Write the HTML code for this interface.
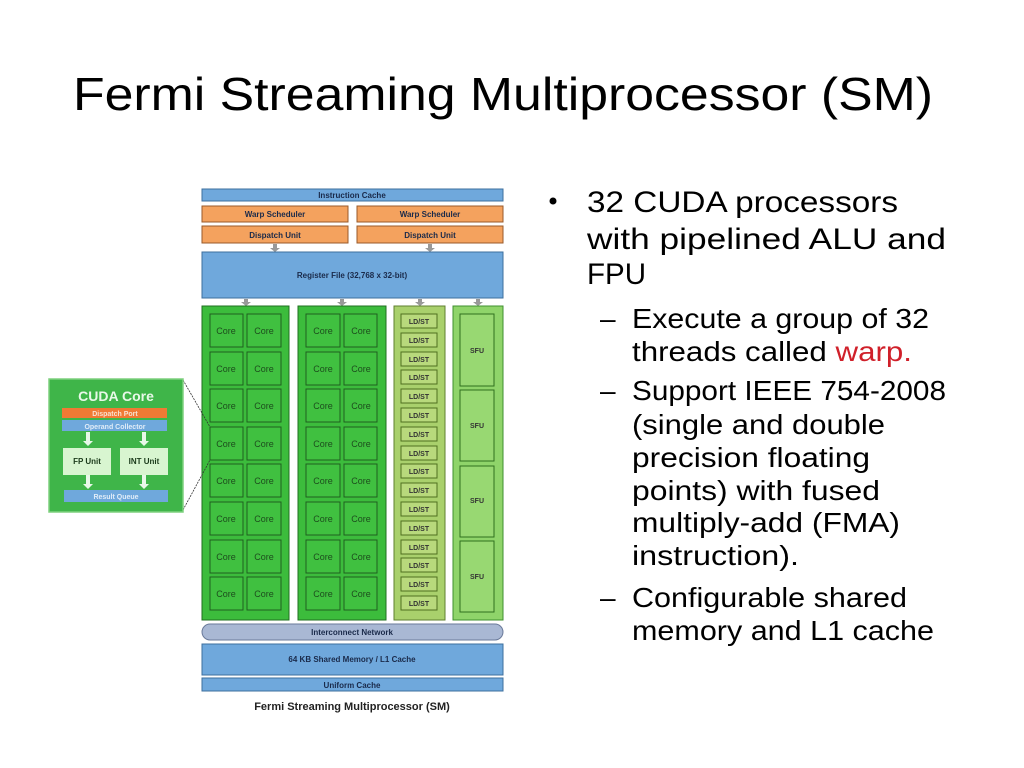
<!DOCTYPE html>
<html><head><meta charset="utf-8"><style>
html,body{margin:0;padding:0;background:#fff;}
svg{display:block}
.d{font-family:"Liberation Sans",sans-serif;font-weight:bold;font-size:8px;text-anchor:middle;fill:#1a2a4a}
.c{font-family:"Liberation Sans",sans-serif;font-size:9px;text-anchor:middle;fill:#1d4d1d}
.l{font-family:"Liberation Sans",sans-serif;font-weight:bold;font-size:7px;text-anchor:middle;fill:#333}
.t{font-family:"Liberation Sans",sans-serif;fill:#000}
</style></head><body>
<svg width="1024" height="768" viewBox="0 0 1024 768" xmlns="http://www.w3.org/2000/svg">
<text class="t" x="73" y="110" font-size="46" textLength="860" lengthAdjust="spacingAndGlyphs">Fermi Streaming Multiprocessor (SM)</text>

<!-- top blocks -->
<rect x="202" y="189" width="301" height="12" fill="#6fa8dc" stroke="#3d6f9e"/>
<text class="d" x="352" y="198">Instruction Cache</text>
<rect x="202" y="206" width="146" height="16" fill="#f4a25e" stroke="#9a5a2a"/>
<text class="d" x="275" y="217">Warp Scheduler</text>
<rect x="357" y="206" width="146" height="16" fill="#f4a25e" stroke="#9a5a2a"/>
<text class="d" x="430" y="217">Warp Scheduler</text>
<rect x="202" y="226" width="146" height="17" fill="#f4a25e" stroke="#9a5a2a"/>
<text class="d" x="275" y="238">Dispatch Unit</text>
<rect x="357" y="226" width="146" height="17" fill="#f4a25e" stroke="#9a5a2a"/>
<text class="d" x="430" y="238">Dispatch Unit</text>
<g fill="#999">
<polygon points="273,244 277,244 277,248 280,248 275,252 270,248 273,248"/>
<polygon points="428,244 432,244 432,248 435,248 430,252 425,248 428,248"/>
<polygon points="244,299 248,299 248,302 251,302 246,306 241,302 244,302"/>
<polygon points="340,299 344,299 344,302 347,302 342,306 337,302 340,302"/>
<polygon points="418,299 422,299 422,302 425,302 420,306 415,302 418,302"/>
<polygon points="476,299 480,299 480,302 483,302 478,306 473,302 476,302"/>
</g>
<rect x="202" y="252" width="301" height="46" fill="#6fa8dc" stroke="#3d6f9e"/>
<text class="d" x="352" y="278">Register File (32,768 x 32-bit)</text>

<!-- columns -->
<rect x="202" y="306" width="87" height="314" fill="#3cbc3c" stroke="#1f6f1f"/>
<rect x="298" y="306" width="88" height="314" fill="#3cbc3c" stroke="#1f6f1f"/>
<rect x="394" y="306" width="51" height="314" fill="#a9d06c" stroke="#5f7f2f"/>
<rect x="453" y="306" width="50" height="314" fill="#8fd46a" stroke="#3f8f2f"/>

<g fill="#40c040" stroke="#1f5f1f">
<rect x="210" y="314" width="33" height="33"/><rect x="247" y="314" width="34" height="33"/><rect x="306" y="314" width="34" height="33"/><rect x="344" y="314" width="33" height="33"/>
<rect x="210" y="352" width="33" height="33"/><rect x="247" y="352" width="34" height="33"/><rect x="306" y="352" width="34" height="33"/><rect x="344" y="352" width="33" height="33"/>
<rect x="210" y="389" width="33" height="33"/><rect x="247" y="389" width="34" height="33"/><rect x="306" y="389" width="34" height="33"/><rect x="344" y="389" width="33" height="33"/>
<rect x="210" y="427" width="33" height="33"/><rect x="247" y="427" width="34" height="33"/><rect x="306" y="427" width="34" height="33"/><rect x="344" y="427" width="33" height="33"/>
<rect x="210" y="464" width="33" height="33"/><rect x="247" y="464" width="34" height="33"/><rect x="306" y="464" width="34" height="33"/><rect x="344" y="464" width="33" height="33"/>
<rect x="210" y="502" width="33" height="33"/><rect x="247" y="502" width="34" height="33"/><rect x="306" y="502" width="34" height="33"/><rect x="344" y="502" width="33" height="33"/>
<rect x="210" y="540" width="33" height="33"/><rect x="247" y="540" width="34" height="33"/><rect x="306" y="540" width="34" height="33"/><rect x="344" y="540" width="33" height="33"/>
<rect x="210" y="577" width="33" height="33"/><rect x="247" y="577" width="34" height="33"/><rect x="306" y="577" width="34" height="33"/><rect x="344" y="577" width="33" height="33"/>
</g>
<g class="c">
<text x="226" y="334">Core</text><text x="264" y="334">Core</text><text x="323" y="334">Core</text><text x="361" y="334">Core</text>
<text x="226" y="372">Core</text><text x="264" y="372">Core</text><text x="323" y="372">Core</text><text x="361" y="372">Core</text>
<text x="226" y="409">Core</text><text x="264" y="409">Core</text><text x="323" y="409">Core</text><text x="361" y="409">Core</text>
<text x="226" y="447">Core</text><text x="264" y="447">Core</text><text x="323" y="447">Core</text><text x="361" y="447">Core</text>
<text x="226" y="484">Core</text><text x="264" y="484">Core</text><text x="323" y="484">Core</text><text x="361" y="484">Core</text>
<text x="226" y="522">Core</text><text x="264" y="522">Core</text><text x="323" y="522">Core</text><text x="361" y="522">Core</text>
<text x="226" y="560">Core</text><text x="264" y="560">Core</text><text x="323" y="560">Core</text><text x="361" y="560">Core</text>
<text x="226" y="597">Core</text><text x="264" y="597">Core</text><text x="323" y="597">Core</text><text x="361" y="597">Core</text>
</g>

<g fill="#b8d97c" stroke="#4f6f1f">
<rect x="401" y="314" width="36" height="14"/><rect x="401" y="333" width="36" height="14"/><rect x="401" y="352" width="36" height="14"/><rect x="401" y="370" width="36" height="14"/>
<rect x="401" y="389" width="36" height="14"/><rect x="401" y="408" width="36" height="14"/><rect x="401" y="427" width="36" height="14"/><rect x="401" y="446" width="36" height="14"/>
<rect x="401" y="464" width="36" height="14"/><rect x="401" y="483" width="36" height="14"/><rect x="401" y="502" width="36" height="14"/><rect x="401" y="521" width="36" height="14"/>
<rect x="401" y="540" width="36" height="14"/><rect x="401" y="558" width="36" height="14"/><rect x="401" y="577" width="36" height="14"/><rect x="401" y="596" width="36" height="14"/>
</g>
<g class="l">
<text x="419" y="324">LD/ST</text><text x="419" y="343">LD/ST</text><text x="419" y="362">LD/ST</text><text x="419" y="380">LD/ST</text>
<text x="419" y="399">LD/ST</text><text x="419" y="418">LD/ST</text><text x="419" y="437">LD/ST</text><text x="419" y="456">LD/ST</text>
<text x="419" y="474">LD/ST</text><text x="419" y="493">LD/ST</text><text x="419" y="512">LD/ST</text><text x="419" y="531">LD/ST</text>
<text x="419" y="550">LD/ST</text><text x="419" y="568">LD/ST</text><text x="419" y="587">LD/ST</text><text x="419" y="606">LD/ST</text>
</g>

<g fill="#98d872" stroke="#2f6f1f">
<rect x="460" y="314" width="34" height="72"/><rect x="460" y="390" width="34" height="71"/><rect x="460" y="466" width="34" height="71"/><rect x="460" y="541" width="34" height="71"/>
</g>
<g class="l" font-size="8">
<text x="477" y="353">SFU</text><text x="477" y="428">SFU</text><text x="477" y="503">SFU</text><text x="477" y="579">SFU</text>
</g>

<rect x="202" y="624" width="301" height="16" rx="8" fill="#a9b8d4" stroke="#6a7a9a"/>
<text class="d" x="352" y="635">Interconnect Network</text>
<rect x="202" y="644" width="301" height="31" fill="#6fa8dc" stroke="#3d6f9e"/>
<text class="d" x="352" y="662">64 KB Shared Memory / L1 Cache</text>
<rect x="202" y="678" width="301" height="13" fill="#6fa8dc" stroke="#3d6f9e"/>
<text class="d" x="352" y="688">Uniform Cache</text>
<text x="352" y="710" font-family="Liberation Sans,sans-serif" font-weight="bold" font-size="11" text-anchor="middle" fill="#222">Fermi Streaming Multiprocessor (SM)</text>

<!-- CUDA core callout -->
<line x1="183" y1="380" x2="210" y2="427" stroke="#333" stroke-width="0.8" stroke-dasharray="2,1"/>
<line x1="183" y1="510" x2="210" y2="460" stroke="#333" stroke-width="0.8" stroke-dasharray="2,1"/>
<rect x="49" y="379" width="134" height="133" fill="#3fb549" stroke="#7fd07f" stroke-width="1.5"/>
<text x="116" y="401" font-family="Liberation Sans,sans-serif" font-weight="bold" font-size="14" text-anchor="middle" fill="#e8f8e8">CUDA Core</text>
<rect x="62" y="408" width="105" height="10" fill="#f07a34"/>
<text x="115" y="416" font-family="Liberation Sans,sans-serif" font-weight="bold" font-size="7" text-anchor="middle" fill="#f8e0d0">Dispatch Port</text>
<rect x="62" y="420" width="105" height="11" fill="#6fa8dc"/>
<text x="115" y="429" font-family="Liberation Sans,sans-serif" font-weight="bold" font-size="7" text-anchor="middle" fill="#e0ecf8">Operand Collector</text>
<g fill="#e8f8e8">
<polygon points="86,432 90,432 90,441 93,441 88,446 83,441 86,441"/>
<polygon points="142,432 146,432 146,441 149,441 144,446 139,441 142,441"/>
<polygon points="86,475 90,475 90,484 93,484 88,489 83,484 86,484"/>
<polygon points="142,475 146,475 146,484 149,484 144,489 139,484 142,484"/>
</g>
<rect x="63" y="448" width="48" height="27" fill="#d8f5d0"/>
<text x="87" y="464" font-family="Liberation Sans,sans-serif" font-weight="bold" font-size="8" text-anchor="middle" fill="#1a3a1a">FP Unit</text>
<rect x="120" y="448" width="48" height="27" fill="#d8f5d0"/>
<text x="144" y="464" font-family="Liberation Sans,sans-serif" font-weight="bold" font-size="8" text-anchor="middle" fill="#1a3a1a">INT Unit</text>
<rect x="64" y="490" width="104" height="12" fill="#6fa8dc"/>
<text x="116" y="499" font-family="Liberation Sans,sans-serif" font-weight="bold" font-size="7" text-anchor="middle" fill="#e0ecf8">Result Queue</text>

<!-- bullets -->
<circle cx="553" cy="201" r="3.5" fill="#000"/>
<text class="t" font-size="30" x="587" y="212" textLength="311" lengthAdjust="spacingAndGlyphs">32 CUDA processors</text>
<text class="t" font-size="30" x="587" y="249" textLength="359" lengthAdjust="spacingAndGlyphs">with pipelined ALU and</text>
<text class="t" font-size="30" x="587" y="284" textLength="59" lengthAdjust="spacingAndGlyphs">FPU</text>
<g class="t" font-size="28">
<text x="600" y="328">–</text><text x="600" y="400">–</text><text x="600" y="607">–</text>
<text x="632" y="328" textLength="297" lengthAdjust="spacingAndGlyphs">Execute a group of 32</text>
<text x="632" y="361" textLength="280" lengthAdjust="spacingAndGlyphs">threads called <tspan fill="#d0202a">warp.</tspan></text>
<text x="632" y="400" textLength="314" lengthAdjust="spacingAndGlyphs">Support IEEE 754-2008</text>
<text x="632" y="434" textLength="253" lengthAdjust="spacingAndGlyphs">(single and double</text>
<text x="632" y="467" textLength="238" lengthAdjust="spacingAndGlyphs">precision floating</text>
<text x="632" y="500" textLength="248" lengthAdjust="spacingAndGlyphs">points) with fused</text>
<text x="632" y="532" textLength="268" lengthAdjust="spacingAndGlyphs">multiply-add (FMA)</text>
<text x="632" y="565" textLength="167" lengthAdjust="spacingAndGlyphs">instruction).</text>
<text x="632" y="607" textLength="275" lengthAdjust="spacingAndGlyphs">Configurable shared</text>
<text x="632" y="640" textLength="302" lengthAdjust="spacingAndGlyphs">memory and L1 cache</text>
</g>
</svg>
</body></html>
